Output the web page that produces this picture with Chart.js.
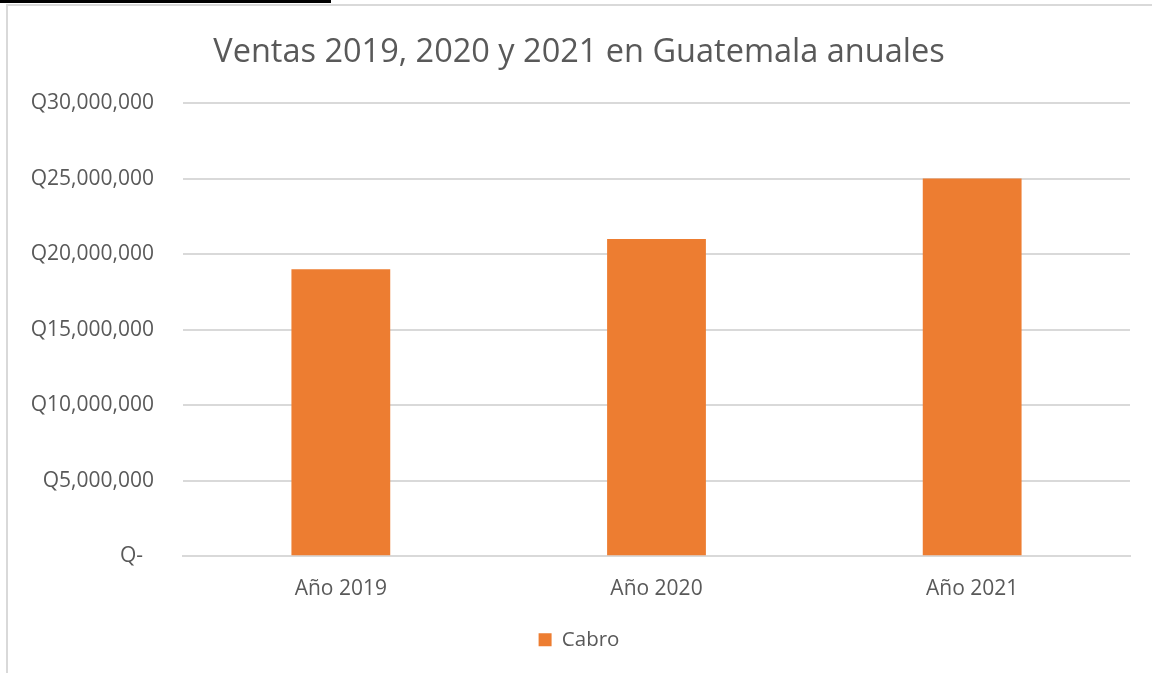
<!DOCTYPE html>
<html>
<head>
<meta charset="utf-8">
<script src="https://cdn.jsdelivr.net/npm/chart.js@4"></script>
<style>
  body { margin: 0; background: #fff; }
  #wrap { position: relative; width: 1152px; height: 673px; overflow: hidden; }
  #bar { position: absolute; left: 0; top: 0; width: 331px; height: 3px; background: #000; }
  #frame { position: absolute; left: 6px; top: 4px; width: 1160px; height: 700px;
           border-top: 2px solid #d9d9d9; border-left: 2px solid #d9d9d9; }
  canvas { position: absolute; left: 0; top: 0; }
</style>
</head>
<body>
<div id="wrap">
  <div id="bar"></div>
  <div id="frame"></div>
  <canvas id="ventasChart" width="1152" height="673"></canvas>
</div>
<script>
// datos del grafico
const years = ['Año 2019', 'Año 2020', 'Año 2021'];
const ventasCabro = [19000000, 21000000, 25000000];
const seriesName = 'Cabro';
const chartTitle = 'Ventas 2019, 2020 y 2021 en Guatemala anuales';

const textColor = '#595959';
const gridColor = '#d9d9d9';
const fontName = "'Open Sans', sans-serif";

const ctx = document.getElementById('ventasChart').getContext('2d');
const ventasChart = new Chart(ctx, {
  type: 'bar',
  data: {
    labels: years,
    datasets: [{
      label: seriesName,
      data: ventasCabro,
      backgroundColor: '#ED7D31',
      categoryPercentage: 0.313,
      barPercentage: 1
    }]
  },
  options: {
    responsive: false,
    animation: false,
    devicePixelRatio: 1,
    layout: { padding: { left: 28, right: 22, top: 0, bottom: 13 } },
    plugins: {
      title: {
        display: true,
        text: chartTitle,
        color: textColor,
        font: { family: fontName, size: 32.5, weight: 'normal' },
        padding: { top: 33, bottom: 31 }
      },
      legend: {
        position: 'bottom',
        labels: {
          color: textColor,
          font: { family: fontName, size: 20.5 },
          boxWidth: 13,
          boxHeight: 13,
          padding: 16
        }
      },
      tooltip: { enabled: false }
    },
    scales: {
      x: {
        grid: { display: false },
        border: { color: gridColor, width: 2 },
        ticks: { color: textColor, font: { family: fontName, size: 21 }, padding: 12 }
      },
      y: {
        min: 0,
        max: 30000000,
        afterFit: (scale) => { scale.width = 155; },
        grid: { color: gridColor, lineWidth: 2, drawTicks: false },
        border: { display: false },
        ticks: {
          stepSize: 5000000,
          color: textColor,
          font: { family: fontName, size: 21 },
          padding: 29,
          callback: (v) => v === 0 ? 'Q-  ' : 'Q' + v.toLocaleString('en-US')
        }
      }
    }
  }
});
</script>
</body>
</html>
